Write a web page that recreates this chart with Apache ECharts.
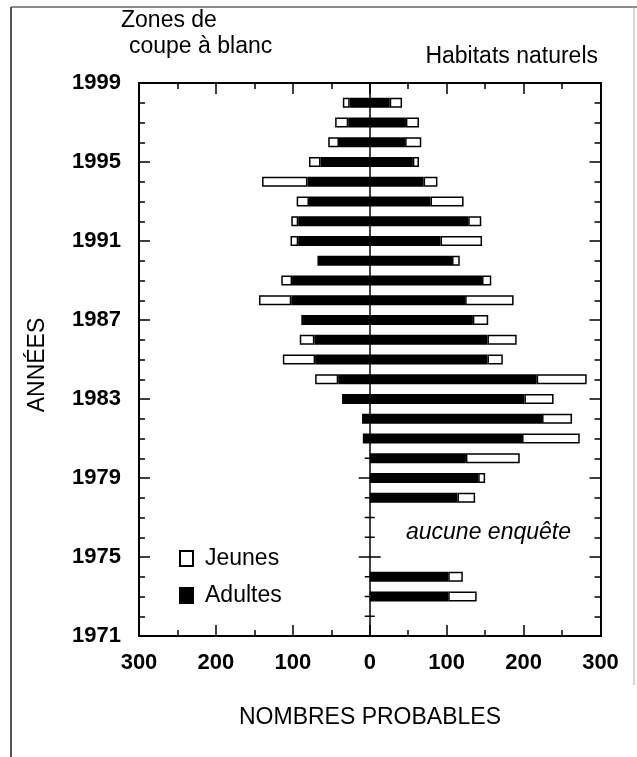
<!DOCTYPE html>
<html><head><meta charset="utf-8">
<script src="https://cdn.jsdelivr.net/npm/echarts@6/dist/echarts.min.js"></script>
<style>html,body{margin:0;padding:0;background:#fff}#c{width:637px;height:757px}</style>
</head><body><div id="c"></div>
<script>
// Years (category axis, bottom to top)
const years = ['1971','1972','1973','1974','1975','1976','1977','1978','1979','1980','1981','1982','1983','1984','1985','1986','1987','1988','1989','1990','1991','1992','1993','1994','1995','1996','1997','1998','1999'];
// Zones de coupe à blanc (drawn to the left)
const cutAdults = [null,null,null,null,null,null,null,null,null,null,9,10,36,41,71,72,89,102,101,68,93,93,79,81,64,40,28,26,null];
const cutYoung  = [null,null,null,null,null,null,null,null,null,null,null,null,null,30,42,19,null,42,14,null,10,9,16,59,15,14,17,9,null];
// Habitats naturels (drawn to the right)
const natAdults = [null,null,102,102,null,null,null,114,141,125,198,224,201,217,153,153,134,124,146,107,92,128,79,70,56,46,47,26,null];
const natYoung  = [null,null,37,19,null,null,null,23,9,70,75,39,38,65,20,38,20,63,12,10,54,17,43,18,8,21,17,16,null];
const xTicks = { min: -300, max: 300, interval: 100 };

const FONT = '"Liberation Sans", Arial, Helvetica, sans-serif';
const neg = a => a.map(v => v == null ? null : -v);

const chart = echarts.init(document.getElementById('c'));
const blackBar = { color: '#000', borderColor: '#000', borderWidth: 1.5 };
const whiteBar = { color: '#fff', borderColor: '#000', borderWidth: 1.5 };

function yAx(pos, len, interval, showLabel) {
  return {
    type: 'category', data: years, position: pos, boundaryGap: false,
    axisLine: { show: true, onZero: false, lineStyle: { color: '#000', width: 2 } },
    axisTick: { show: true, inside: true, length: len, interval: interval, lineStyle: { color: '#000', width: 1.5 } },
    axisLabel: { show: showLabel, interval: interval, margin: 18, color: '#000', fontSize: 22, fontWeight: 'bold', fontFamily: FONT },
    splitLine: { show: false }
  };
}
function xAx(pos, showLabel) {
  return {
    type: 'value', position: pos, min: xTicks.min, max: xTicks.max, interval: xTicks.interval,
    axisLine: { show: true, onZero: false, lineStyle: { color: '#000', width: 2 } },
    axisTick: { show: true, inside: true, length: 11, lineStyle: { color: '#000', width: 1.5 } },
    minorTick: { show: true, splitNumber: 2, length: 6, lineStyle: { color: '#000', width: 1.5 } },
    splitLine: { show: false },
    axisLabel: { show: showLabel, margin: 16, formatter: v => String(Math.abs(v)), color: '#000', fontSize: 22, fontWeight: 'bold', fontFamily: FONT }
  };
}

const txt = (text, x, y, extra) => ({
  type: 'text', x: x, y: y, silent: true,
  style: Object.assign({ text: text, fill: '#000', fontSize: 23, fontFamily: FONT, align: 'left', verticalAlign: 'middle' }, extra || {})
});

chart.setOption({
  animation: false,
  backgroundColor: '#fff',
  grid: { left: 139, right: 36.5, top: 83, bottom: 121, containLabel: false, outerBoundsMode: 'none' },
  xAxis: [xAx('bottom', true), xAx('top', false)],
  yAxis: [yAx('left', 6, 0, false), yAx('left', 11, 3, true), yAx('right', 6, 0, false), yAx('right', 11, 3, false)],
  legend: {
    data: ['Jeunes', 'Adultes'], orient: 'vertical', left: 179, top: 547, padding: 0,
    itemWidth: 13, itemHeight: 15, itemGap: 14, icon: 'rect',
    textStyle: { fontSize: 23, fontFamily: FONT, color: '#000', padding: [0, 0, 0, 7] },
    selectedMode: false
  },
  series: [
    { name: 'Adultes', type: 'bar', stack: 's', barWidth: 10, data: neg(cutAdults), itemStyle: blackBar },
    { name: 'Jeunes', type: 'bar', stack: 's', barWidth: 10, data: neg(cutYoung), itemStyle: whiteBar },
    { name: 'Adultes', type: 'bar', stack: 's', barWidth: 10, data: natAdults, itemStyle: blackBar },
    { name: 'Jeunes', type: 'bar', stack: 's', barWidth: 10, data: natYoung, itemStyle: whiteBar },
    {
      type: 'custom', silent: true, z: 5,
      data: years.map(y => [0, y]),
      renderItem: function (params, api) {
        const p = api.coord([api.value(0), api.value(1)]);
        const yr = parseInt(years[params.dataIndex], 10);
        const len = ((yr - 1971) % 4 === 0) ? 11 : 5;
        return { type: 'line', shape: { x1: p[0] - len, y1: p[1], x2: p[0] + len, y2: p[1] }, style: { stroke: '#000', lineWidth: 1.5 } };
      },
      markLine: { silent: true, symbol: 'none', label: { show: false }, lineStyle: { color: '#000', width: 1.5, type: 'solid' }, data: [{ xAxis: 0 }] }
    }
  ],
  graphic: [
    { type: 'line', silent: true, shape: { x1: 11, y1: 7, x2: 637, y2: 7 }, style: { stroke: '#8a8a8a', lineWidth: 2 } },
    { type: 'line', silent: true, shape: { x1: 11, y1: 7, x2: 11, y2: 757 }, style: { stroke: '#555', lineWidth: 2 } },
    { type: 'line', silent: true, shape: { x1: 634, y1: 7, x2: 634, y2: 685 }, style: { stroke: '#aaa', lineWidth: 1 } },
    txt('Zones de', 121, 21),
    txt('coupe à blanc', 129, 47),
    txt('Habitats naturels', 598, 57, { align: 'right' }),
    txt('aucune enquête', 406, 533, { fontStyle: 'italic' }),
    txt('NOMBRES PROBABLES', 370, 718, { align: 'center' }),
    { type: 'text', x: 38, y: 365, rotation: Math.PI / 2, silent: true,
      style: { text: 'ANNÉES', fill: '#000', fontSize: 23, fontFamily: FONT, align: 'center', verticalAlign: 'middle' } }
  ]
});
</script></body></html>
